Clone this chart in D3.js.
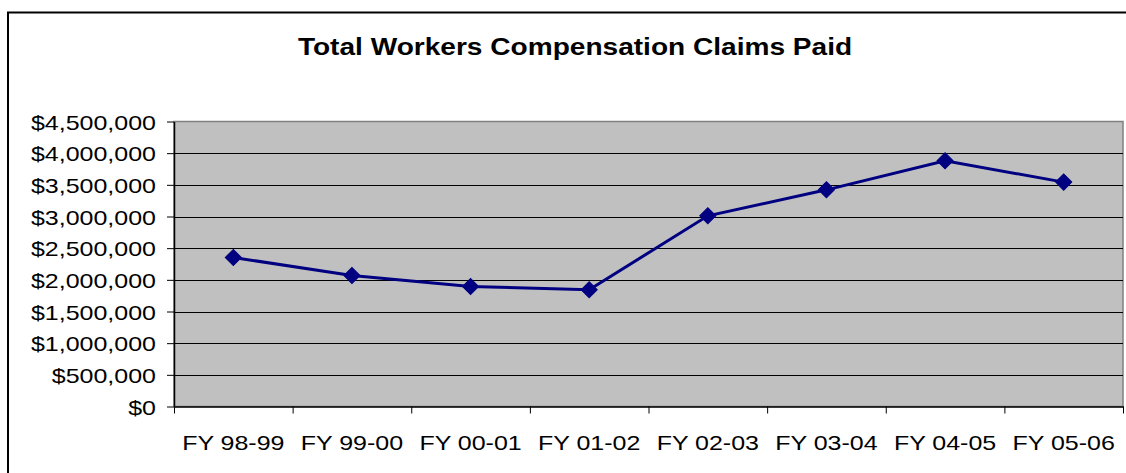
<!DOCTYPE html>
<html>
<head>
<meta charset="utf-8">
<script src="https://cdn.jsdelivr.net/npm/d3@7"></script>
<style>
  body { margin: 0; background: #fff; }
  text { font-family: "Liberation Sans", Arial, sans-serif; fill: #000; }
</style>
</head>
<body>
<div id="chart"></div>
<script>
const categories = ["FY 98-99", "FY 99-00", "FY 00-01", "FY 01-02", "FY 02-03", "FY 03-04", "FY 04-05", "FY 05-06"];
const claims_paid = [2353000, 2068000, 1895000, 1843000, 3011000, 3421000, 3879000, 3543000];
const y_ticks = [0, 500000, 1000000, 1500000, 2000000, 2500000, 3000000, 3500000, 4000000, 4500000];
const chart_title = "Total Workers Compensation Claims Paid";

const W = 1126, H = 473;
const plot = { left: 174, right: 1123, top: 121.5, bottom: 406.5 };
const stretch = 1.19; // the source text is wider than it is tall

const svg = d3.select("#chart").append("svg")
  .attr("width", W).attr("height", H);

// outer chart frame (runs off right and bottom)
svg.append("rect")
  .attr("x", 8).attr("y", 12.5)
  .attr("width", W + 10).attr("height", H + 10)
  .attr("fill", "#fff").attr("stroke", "#000").attr("stroke-width", 2);

svg.append("text")
  .attr("transform", `translate(575, 55) scale(1.17, 1)`)
  .attr("text-anchor", "middle")
  .style("font-size", "24px").style("font-weight", "bold")
  .text(chart_title);

const x_band = d3.scaleBand().domain(categories).range([plot.left, plot.right]);
const x_edges = d3.scaleLinear().domain([0, categories.length]).range([plot.left, plot.right]);
const y_scale = d3.scaleLinear().domain([0, 4500000]).range([plot.bottom, plot.top]);

svg.append("rect")
  .attr("x", plot.left).attr("y", plot.top)
  .attr("width", plot.right - plot.left).attr("height", plot.bottom - plot.top)
  .attr("fill", "#c0c0c0").attr("stroke", "#808080").attr("stroke-width", 1.5);

// gridlines
svg.append("g").selectAll("line")
  .data(y_ticks.filter(d => d > 0 && d < 4500000))
  .join("line")
  .attr("x1", plot.left).attr("x2", plot.right)
  .attr("y1", d => Math.round(y_scale(d)) + 0.5).attr("y2", d => Math.round(y_scale(d)) + 0.5)
  .attr("stroke", "#000").attr("stroke-width", 1);

const y_axis = d3.axisLeft(y_scale)
  .tickValues(y_ticks)
  .tickSize(7).tickSizeOuter(0)
  .tickFormat(d => "$" + d3.format(",")(d));

const gy = svg.append("g")
  .attr("transform", `translate(${plot.left},0)`)
  .call(y_axis);
gy.select(".domain").attr("stroke", "#000").attr("stroke-width", 1.5);
gy.selectAll(".tick line").attr("stroke", "#000");
gy.selectAll(".tick text")
  .attr("x", null).attr("dy", null)
  .attr("transform", `translate(-18, 7.5) scale(${stretch}, 1)`)
  .style("font-size", "21px").style("font-family", "'Liberation Sans', Arial, sans-serif");

const x_axis = d3.axisBottom(x_edges)
  .tickValues(d3.range(categories.length + 1))
  .tickSize(7).tickSizeOuter(0)
  .tickFormat("");

const gx = svg.append("g")
  .attr("transform", `translate(0,${plot.bottom})`)
  .call(x_axis);
gx.select(".domain").attr("stroke", "#000").attr("stroke-width", 1.5);
gx.selectAll(".tick line").attr("stroke", "#000");

svg.append("g").selectAll("text")
  .data(categories)
  .join("text")
  .attr("transform", d => `translate(${x_band(d) + x_band.bandwidth() / 2}, 450) scale(${stretch}, 1)`)
  .attr("text-anchor", "middle")
  .style("font-size", "21px")
  .text(d => d);

const series = categories.map((c, i) => [c, claims_paid[i]]);
const line = d3.line()
  .x(d => x_band(d[0]) + x_band.bandwidth() / 2)
  .y(d => y_scale(d[1]));

svg.append("path")
  .datum(series)
  .attr("d", line)
  .attr("fill", "none")
  .attr("stroke", "#000080")
  .attr("stroke-width", 3);

svg.append("g").selectAll("path")
  .data(series)
  .join("path")
  .attr("d", d3.symbol(d3.symbolSquare, 130))
  .attr("transform", d => `translate(${x_band(d[0]) + x_band.bandwidth() / 2},${y_scale(d[1])}) rotate(45)`)
  .attr("fill", "#000080")
  .attr("stroke", "#000080");
</script>
</body>
</html>
